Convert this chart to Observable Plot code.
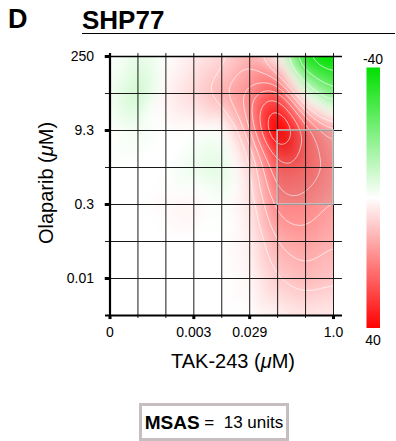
<!DOCTYPE html>
<html><head><meta charset="utf-8">
<script src="https://cdn.jsdelivr.net/npm/d3@7"></script>
<script src="https://cdn.jsdelivr.net/npm/@observablehq/plot@0.6"></script>
<style>
body{margin:0;background:#fff;font-family:"Liberation Sans",Arial,Helvetica,sans-serif;}
#wrap{position:relative;width:396px;height:441px;overflow:hidden;background:#fff;}
.abs{position:absolute;line-height:1;white-space:nowrap;color:#000;}
</style></head><body><div id="wrap"></div>
<script>
// Dose axes (grid index positions) and their labels
const xTickIdx = [0, 3, 5, 8];
const xTickText = ["0", "0.003", "0.029", "1.0"];
const yTickIdx = [1, 3, 5, 7];
const yTickText = ["0.01", "0.3", "9.3", "250"];
const xDoseIdx = [0, 1, 2, 3, 4, 5, 6, 7, 8];
const yDoseIdx = [0, 1, 2, 3, 4, 5, 6, 7];

// Synergy values at each dose combination (row = Olaparib dose index, col = TAK-243 dose index)
const row7 = [0, -4, 0, 3, 6, 12, 2, -36, -42];
const row6 = [-2, -8, 2, 6, 12, 18, 27, -3, -20];
const row5 = [0, -2, 0, 0, -1, 14, 44, 24, 14];
const row4 = [0, 0, 0, -3, -5, 6, 26, 24, 18];
const row3 = [0, 0, 1, 2, -1, 4, 19, 19, 15];
const row2 = [0, 0, 0, 0, 0, 2, 13, 15, 12];
const row1 = [0, 0, 0, 0, 0, 1, 8, 11, 9];
const row0 = [0, 0, 0, 0, 0, 0, 2, 4, 3];
const rows = [row0, row1, row2, row3, row4, row5, row6, row7];

const contourLevels = [-30, -20, -10, 8, 12, 16, 20, 25, 30, 35];
const msasBox = [{x1: 6, x2: 8, y1: 3, y2: 5}];
const legendTicks = ["-40", "40"];
const colorDomain = [-40, 0, 40];
const colorRange = ["#00e000", "#ffffff", "#ff0000"];

const points = [];
rows.forEach((r, j) => r.forEach((v, i) => points.push({x: xDoseIdx[i], y: yDoseIdx[j], v})));

const colorScale = {type: "linear", domain: colorDomain, range: colorRange, clamp: true, interpolate: "rgb"};
const gridColor = "#1a1a1a";

const chart = Plot.plot({
  width: 396, height: 380,
  marginLeft: 109.5, marginRight: 63, marginTop: 56, marginBottom: 65,
  style: {fontFamily: "'Liberation Sans', Arial, sans-serif", fontSize: "14px", background: "transparent"},
  x: {domain: [0, 8], axis: null},
  y: {domain: [0, 7], axis: null},
  color: colorScale,
  marks: [
    Plot.raster(points, {x: "x", y: "y", fill: "v", interpolate: "barycentric", blur: 5, pixelSize: 1}),
    Plot.contour(points, {x: "x", y: "y", value: "v", interpolate: "barycentric", blur: 5, thresholds: contourLevels, fill: "none", stroke: "white", strokeOpacity: 0.75, strokeWidth: 0.9}),
    Plot.rect(msasBox, {x1: "x1", x2: "x2", y1: "y1", y2: "y2", fill: "#707070", fillOpacity: 0.1}),
    Plot.ruleY(yDoseIdx, {x1: -0.16, x2: 8.32, stroke: gridColor, strokeWidth: 1}),
    Plot.ruleX(xDoseIdx, {y1: -0.08, y2: 7.08, stroke: gridColor, strokeWidth: 1}),
    Plot.ruleX([0], {y1: -0.08, y2: 7.08, stroke: "#000", strokeWidth: 2.2}),
    Plot.ruleY([0], {x1: -0.16, x2: 8.32, stroke: "#000", strokeWidth: 2}),
    Plot.ruleY([7], {x1: -0.16, x2: 8.32, stroke: "#000", strokeWidth: 1.6}),
    Plot.ruleY(yTickIdx, {x1: -0.17, x2: 0, stroke: "#000", strokeWidth: 3}),
    Plot.ruleX(xTickIdx, {y1: -0.11, y2: 0, stroke: "#000", strokeWidth: 3}),
    Plot.rect(msasBox, {x1: "x1", x2: "x2", y1: "y1", y2: "y2", fill: "none", stroke: "#c8c8c8", strokeWidth: 1.5}),
    Plot.axisY(yTickIdx, {tickSize: 0, tickPadding: 16, tickFormat: d => yTickText[yTickIdx.indexOf(d)], fontSize: 14, label: null}),
    Plot.axisX(xTickIdx, {tickSize: 0, tickPadding: 12, tickFormat: d => xTickText[xTickIdx.indexOf(d)], fontSize: 14, label: null})
  ]
});

const svg = d3.select(chart);
const xl = svg.append("text").attr("x", 233).attr("y", 368).attr("text-anchor", "middle")
  .attr("font-size", 20).attr("fill", "#000");
xl.append("tspan").text("TAK-243 (");
xl.append("tspan").attr("font-style", "italic").text("\u03bc");
xl.append("tspan").text("M)");
const yl = svg.append("text").attr("transform", "translate(53,183) rotate(-90)").attr("text-anchor", "middle")
  .attr("font-size", 20).attr("fill", "#000");
yl.append("tspan").text("Olaparib (");
yl.append("tspan").attr("font-style", "italic").text("\u03bc");
yl.append("tspan").text("M)");

const wrap = document.getElementById("wrap");
chart.style.position = "absolute";
chart.style.left = "0px";
chart.style.top = "0px";
wrap.appendChild(chart);

// Color bar
const bar = Plot.plot({
  width: 14, height: 261, margin: 0,
  x: {domain: [0, 1], axis: null},
  y: {domain: [40, -40], axis: null},
  color: colorScale,
  marks: [Plot.raster({fill: (x, y) => y, x1: 0, x2: 1, y1: -40, y2: 40, pixelSize: 1})]
});
bar.style.position = "absolute";
bar.style.left = "366px";
bar.style.top = "67px";
wrap.appendChild(bar);

function addDiv(html, css) {
  const d = document.createElement("div");
  d.className = "abs";
  d.innerHTML = html;
  Object.assign(d.style, css);
  wrap.appendChild(d);
  return d;
}
addDiv(legendTicks[0], {left: "353px", width: "40px", textAlign: "center", top: "52px", fontSize: "14px"});
addDiv(legendTicks[1], {left: "353px", width: "40px", textAlign: "center", top: "333px", fontSize: "14px"});

addDiv("D", {left: "8px", top: "6px", fontSize: "27px", fontWeight: "bold"});
addDiv("SHP77", {left: "82px", top: "7px", fontSize: "26px", fontWeight: "bold"});
addDiv("", {left: "82px", top: "32.5px", width: "313px", height: "1.6px", background: "#000"});

const box = addDiv('<b style="font-size:19px">MSAS</b><span style="font-size:17px">&nbsp;=&nbsp;&nbsp;13 units</span>',
  {left: "139px", top: "403px", width: "150px", height: "38px", boxSizing: "border-box",
   border: "3px solid #c6bebe", display: "flex", alignItems: "center", justifyContent: "center", background: "#fff"});
</script>
</body></html>
